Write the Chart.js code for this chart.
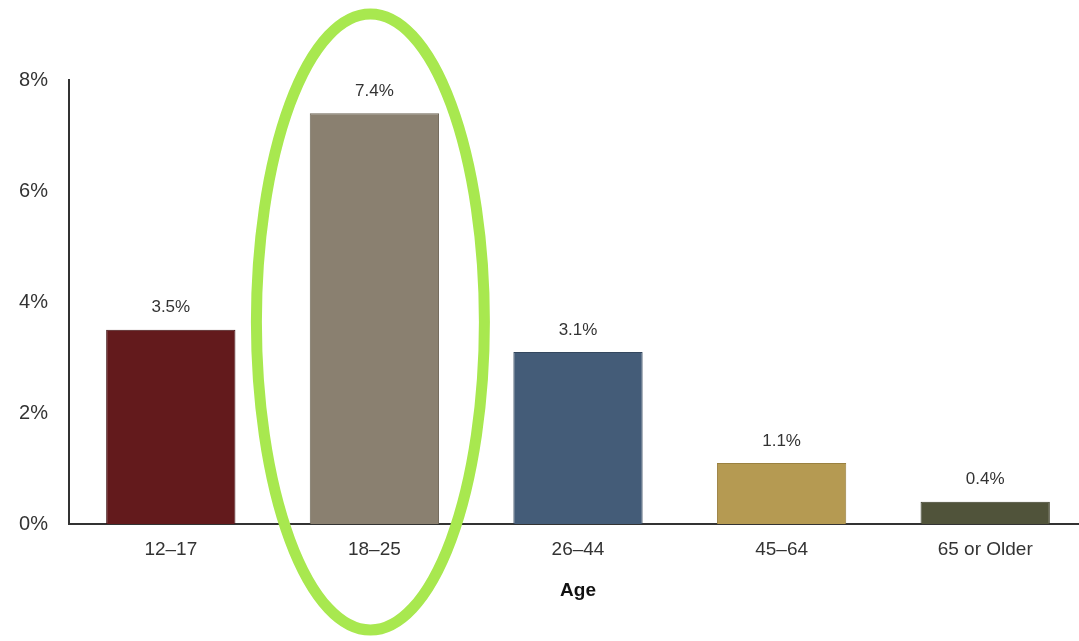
<!DOCTYPE html>
<html>
<head>
<meta charset="utf-8">
<script src="https://cdn.jsdelivr.net/npm/chart.js@4.4.1/dist/chart.umd.min.js"></script>
<style>
  html, body { margin: 0; padding: 0; background: #fff; overflow: hidden; }
  #wrap { position: relative; width: 1087px; height: 641px; }
</style>
</head>
<body>
<div id="wrap"><canvas id="c"></canvas></div>
<script>
const categories = ['12\u201317', '18\u201325', '26\u201344', '45\u201364', '65 or Older'];
const values = [3.5, 7.4, 3.1, 1.1, 0.4];
const valueLabels = ['3.5%', '7.4%', '3.1%', '1.1%', '0.4%'];
const barColors = ['#631a1c', '#8a8070', '#445c78', '#b59a52', '#50533a'];
const barBorders = ['#3e1012', '#6e6556', '#34485f', '#9a8140', '#3a3c28'];
const yTicks = [0, 2, 4, 6, 8];
const xTitle = 'Age';

const valueLabelPlugin = {
  id: 'valueLabels',
  afterDatasetsDraw(chart) {
    const ctx = chart.ctx;
    const meta = chart.getDatasetMeta(0);
    ctx.save();
    ctx.fillStyle = '#333';
    ctx.font = '17px "Liberation Sans", Arial, sans-serif';
    ctx.textAlign = 'center';
    ctx.textBaseline = 'middle';
    meta.data.forEach((bar, i) => {
      ctx.fillText(valueLabels[i], bar.x, bar.y - 22);
    });
    ctx.restore();
  }
};

const ellipsePlugin = {
  id: 'highlightEllipse',
  afterDraw(chart) {
    const ctx = chart.ctx;
    const meta = chart.getDatasetMeta(0);
    const cx = meta.data[1].x - 4;
    ctx.save();
    ctx.strokeStyle = '#a8e84f';
    ctx.lineWidth = 11;
    ctx.beginPath();
    ctx.ellipse(cx, 322, 114, 308, 0, 0, Math.PI * 2);
    ctx.stroke();
    ctx.restore();
  }
};

new Chart(document.getElementById('c'), {
  type: 'bar',
  data: {
    labels: categories,
    datasets: [{
      data: values,
      backgroundColor: barColors,
      borderColor: barBorders,
      borderWidth: 1,
      barPercentage: 0.635,
      categoryPercentage: 1.0
    }]
  },
  options: {
    responsive: true,
    maintainAspectRatio: false,
    animation: false,
    layout: { padding: { top: 80, left: 0, right: 0, bottom: 35 } },
    plugins: {
      legend: { display: false },
      tooltip: { enabled: false }
    },
    scales: {
      x: {
        grid: { display: false, drawTicks: false },
        border: { display: true, color: '#333', width: 2 },
        ticks: {
          color: '#333',
          font: { family: '"Liberation Sans", Arial, sans-serif', size: 19 },
          padding: 14,
          maxRotation: 0
        },
        title: {
          display: true,
          text: xTitle,
          color: '#111',
          font: { family: '"Liberation Sans", Arial, sans-serif', size: 19, weight: 'bold' },
          padding: { top: 18, bottom: 4 }
        },
        afterFit(scale) { scale.height = 82; }
      },
      y: {
        min: 0,
        max: 8,
        afterBuildTicks(scale) { scale.ticks = yTicks.map(v => ({ value: v })); },
        grid: { display: false, drawTicks: false },
        border: { display: true, color: '#333', width: 2 },
        ticks: {
          color: '#333',
          font: { family: '"Liberation Sans", Arial, sans-serif', size: 20 },
          padding: 21,
          callback: v => v + '%'
        },
        afterFit(scale) { scale.width = 69; }
      }
    }
  },
  plugins: [valueLabelPlugin, ellipsePlugin]
});
</script>
</body>
</html>
